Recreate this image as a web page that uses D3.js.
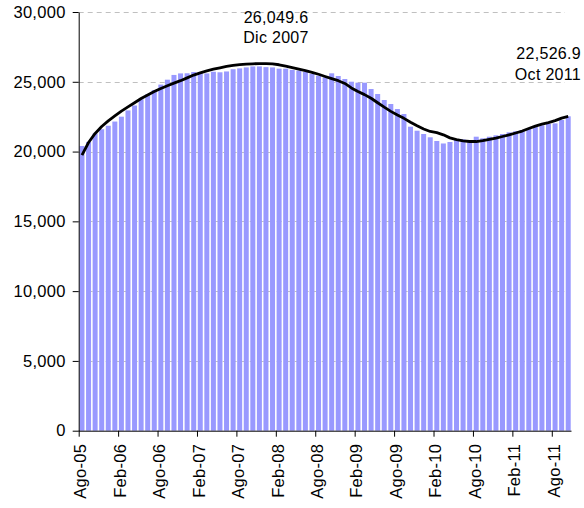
<!DOCTYPE html>
<html>
<head>
<meta charset="utf-8">
<script src="https://cdn.jsdelivr.net/npm/d3@7"></script>
<style>
  body { margin: 0; background: #fff; }
  svg { display: block; font-family: "Liberation Sans", Arial, sans-serif; }
</style>
</head>
<body>
<svg id="chart"></svg>
<script>
// monthly series, Ago-05 .. Oct-11
const months = d3.timeMonth.range(new Date(2005, 7, 1), new Date(2011, 10, 1));
const barValues = [
  20400, 20690, 21300, 21600, 21850, 22150, 22500, 22950, 23300, 23750,
  24100, 24400, 24800, 25150, 25490, 25600, 25610, 25700, 25650, 25600,
  25720, 25680, 25740, 25900, 25960, 26030, 26100, 26100, 26049.6, 26030,
  25940, 25940, 25850, 25800, 25700, 25560, 25437, 25318, 25607, 25414,
  25199, 25006, 24935, 24935, 24483, 24125, 23695, 23408, 23050, 22691,
  21782, 21495, 21259, 21022, 20757, 20580, 20686, 20877, 20877, 20778,
  21065, 20950, 21065, 21165, 21259, 21380, 21452, 21545, 21638, 21782,
  21882, 21975, 22020, 22262, 22526.9
];
const trendValues = [
  19750, 20650, 21300, 21800, 22200, 22550, 22900, 23200, 23500, 23800,
  24050, 24300, 24520, 24720, 24900, 25080, 25280, 25480, 25640, 25780,
  25900, 26000, 26100, 26170, 26230, 26270, 26290, 26300, 26300, 26280,
  26220, 26120, 26010, 25900, 25800, 25680, 25540, 25380, 25230, 25080,
  24880, 24560, 24300, 24080, 23820, 23500, 23180, 22880, 22620, 22380,
  22100, 21850, 21620, 21440, 21360, 21200, 20980, 20850, 20760, 20720,
  20720, 20780, 20870, 20960, 21080, 21200, 21330, 21470, 21650, 21820,
  21960, 22080, 22220, 22400, 22520
];
const tickLabels = ["Ago-05", "Feb-06", "Ago-06", "Feb-07", "Ago-07", "Feb-08", "Ago-08",
  "Feb-09", "Ago-09", "Feb-10", "Ago-10", "Feb-11", "Ago-11"];
const yTicks = [0, 5000, 10000, 15000, 20000, 25000, 30000];
const notes = [
  { idx: 28, lines: ["26,049.6", "Dic 2007"] },
  { idx: 74, lines: ["22,526.9", "Oct 2011"] }
];

const width = 584, height = 508;
const mLeft = 78.7, mRight = 571.5, mTop = 12, mBottom = 430.7;
const font = "Liberation Sans, Arial, sans-serif";

const svg = d3.select("#chart").attr("width", width).attr("height", height);

const x = d3.scaleBand()
  .domain(d3.range(months.length))
  .range([mLeft, mRight])
  .paddingInner(0.24)
  .paddingOuter(0.12);

const y = d3.scaleLinear().domain([0, 30000]).range([mBottom, mTop]);

// gridlines
svg.append("g")
  .selectAll("line")
  .data(yTicks.filter(d => d > 0))
  .enter()
  .append("line")
  .attr("x1", mLeft)
  .attr("x2", 565)
  .attr("y1", d => Math.round(y(d)) + 0.5)
  .attr("y2", d => Math.round(y(d)) + 0.5)
  .attr("stroke", "#c0c0c0")
  .attr("stroke-dasharray", "5,4");

// bars
svg.append("g")
  .selectAll("rect")
  .data(barValues)
  .enter()
  .append("rect")
  .attr("x", (d, i) => x(i))
  .attr("y", d => y(d))
  .attr("width", x.bandwidth())
  .attr("height", d => y(0) - y(d))
  .attr("fill", "#9999ff");

// trend line
const line = d3.line()
  .x((d, i) => x(i) + x.bandwidth() / 2)
  .y(d => y(d));

svg.append("path")
  .datum(trendValues)
  .attr("d", line)
  .attr("fill", "none")
  .attr("stroke", "#000")
  .attr("stroke-width", 2.8)
  .attr("stroke-linejoin", "round");

// y axis
const yAxis = d3.axisLeft(y)
  .tickValues(yTicks)
  .tickFormat(d3.format(","))
  .tickSize(6)
  .tickSizeOuter(0)
  .tickPadding(8);

const gy = svg.append("g")
  .attr("transform", `translate(${mLeft},0)`)
  .call(yAxis);
gy.selectAll("text")
  .attr("font-size", 16.5)
  .attr("letter-spacing", 0.3)
  .attr("dx", 1)
  .attr("fill", "#000")
  .attr("font-family", font);

// x axis, ticks between categories, labels on category centres
const tickIdx = tickLabels.map((d, i) => i * 6);
const xAxis = d3.axisBottom(x)
  .tickValues(tickIdx)
  .tickFormat((d, i) => tickLabels[i])
  .tickSize(6)
  .tickSizeOuter(0);

const gx = svg.append("g")
  .attr("transform", `translate(0,${mBottom})`)
  .call(xAxis);
gx.select(".domain").attr("d", `M${mLeft},0.5H${mRight}`);
gx.selectAll(".tick line").attr("transform", `translate(${-x.step() / 2 + 0.5},0)`);
gx.selectAll(".tick text")
  .attr("transform", "rotate(-90)")
  .attr("x", -13)
  .attr("y", -1)
  .attr("dy", "0.33em")
  .attr("text-anchor", "end")
  .attr("font-size", 16.5)
  .attr("letter-spacing", 0.3)
  .attr("fill", "#000")
  .attr("font-family", font);

// annotations
const ann = svg.append("g").attr("font-size", 16).attr("letter-spacing", 0.3)
  .attr("fill", "#000").attr("font-family", font);
ann.append("text")
  .attr("x", 276).attr("y", 22.5)
  .attr("text-anchor", "middle")
  .selectAll("tspan")
  .data(notes[0].lines)
  .enter()
  .append("tspan")
  .attr("x", 276)
  .attr("dy", (d, i) => i ? 20.8 : 0)
  .text(d => d);
ann.append("text")
  .attr("x", 581).attr("y", 58.5)
  .attr("text-anchor", "end")
  .selectAll("tspan")
  .data(notes[1].lines)
  .enter()
  .append("tspan")
  .attr("x", 581)
  .attr("dy", (d, i) => i ? 21.5 : 0)
  .text(d => d);
</script>
</body>
</html>
